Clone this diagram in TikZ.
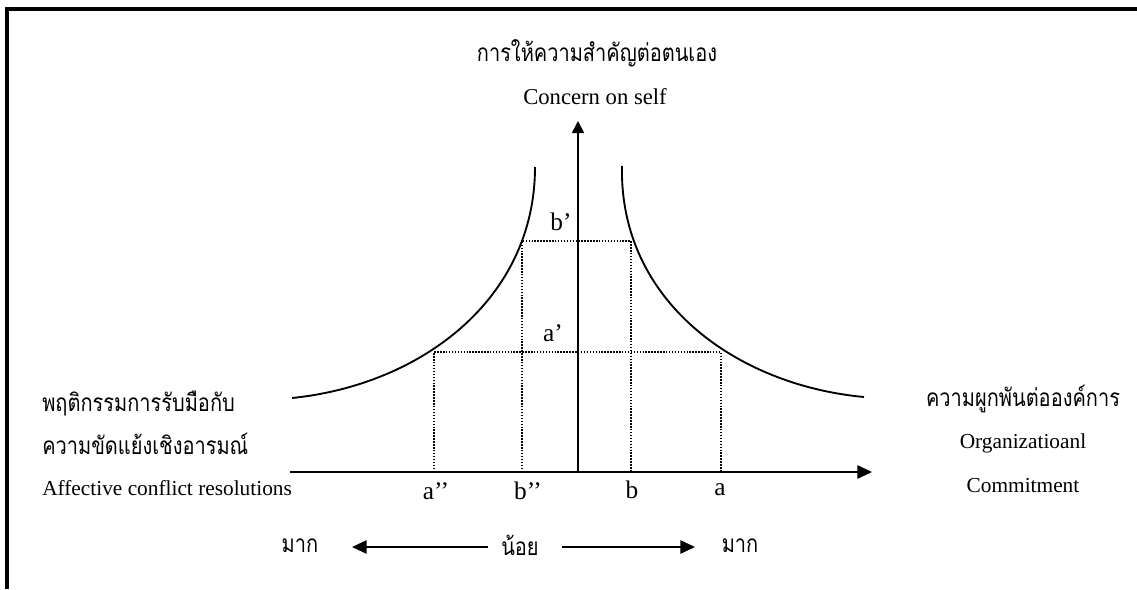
\documentclass[tikz,border=0pt]{standalone}
\usepackage{fontspec}
\setmainfont{Liberation Serif}
\newfontfamily\thaifont[Script=Thai]{Loma}
\usetikzlibrary{arrows.meta}
\newcommand{\thtall}[1]{\scalebox{1}[1.22]{#1}}
\tikzset{
  axisline/.style={line width=1.3pt},
  curveline/.style={line width=1.4pt},
  guide/.style={line width=1.1pt, dash pattern=on 1.1pt off 1.1pt},
  entext/.style={inner sep=0pt, font=\fontsize{16}{18}\selectfont},
  lbl/.style={inner sep=0pt, font=\fontsize{19}{21}\selectfont},
  thtext/.style={inner sep=0pt, font=\thaifont\fontsize{15}{17}\selectfont},
  bigtip/.style={-{Triangle[length=11pt,width=10pt]}},
  uptip/.style={-{Triangle[length=9pt,width=9pt]}}
}
\begin{document}
\begin{tikzpicture}[x=0.75pt,y=-0.75pt]
\useasboundingbox (0,0) rectangle (1137,589);
% frame
\coordinate (f1) at (7,589);
\coordinate (f2) at (7,9);
\coordinate (f3) at (1137,9);
\draw[line width=2.5pt] (f1) -- (f2) -- (f3);
% axes
\coordinate (O) at (578,472);
\coordinate (xs) at (290,472);
\coordinate (xe) at (872,472);
\coordinate (ye) at (578,121);
\draw[axisline, bigtip] (xs) -- (xe);
\draw[axisline, uptip] (O) -- (ye);
% guide points
\coordinate (A2) at (434,472);
\coordinate (B2) at (522,472);
\coordinate (B) at (631,472);
\coordinate (A) at (721,472);
\coordinate (Ap1) at (434,352);
\coordinate (Ap2) at (721,352);
\coordinate (Bp1) at (522,241);
\coordinate (Bp2) at (631,241);
\draw[guide] (A2) -- (Ap1) -- (Ap2) -- (A);
\draw[guide] (B2) -- (Bp1) -- (Bp2) -- (B);
% curves
\coordinate (L0) at (292,398);
\coordinate (L1) at (535,167);
\coordinate (R0) at (622,166);
\coordinate (R1) at (864,397);
\draw[curveline] (L0) .. controls (420,385) and (535,300) .. (L1);
\draw[curveline] (R0) .. controls (619,300) and (735,385) .. (R1);
% labels
\node[lbl] (la2) at (436,491) {a’’};
\node[lbl] (lb2) at (528,491) {b’’};
\node[lbl] (lb) at (632,490) {b};
\node[lbl] (la) at (720,490) {a};
\node[lbl] (lap) at (553,333) {a’};
\node[lbl] (lbp) at (561,222) {b’};
% top texts
\node[thtext] (t1) at (597,53) {\thtall{การให้ความสำคัญต่อตนเอง}};
\node[entext, font=\fontsize{17}{19}\selectfont] (t2) at (595,97) {Concern on self};
% left texts
\node[thtext, anchor=west] (l1) at (42,403) {\thtall{พฤติกรรมการรับมือกับ}};
\node[thtext, anchor=west] (l2) at (42,444) {\thtall{ความขัดแย้งเชิงอารมณ์}};
\node[entext, anchor=west] (l3) at (42,488) {Affective conflict resolutions};
% right texts
\node[thtext] (r1) at (1023,399) {\thtall{ความผูกพันต่อองค์การ}};
\node[entext] (r2) at (1023,443) {Organizatioanl};
\node[entext] (r3) at (1023,486) {Commitment};
% bottom scale
\node[thtext] (m1) at (300,546) {\thtall{มาก}};
\node[thtext] (n0) at (520,545) {\thtall{น้อย}};
\node[thtext] (m2) at (740,546) {\thtall{มาก}};
\coordinate (al) at (488,547);
\coordinate (alt) at (352,547);
\coordinate (ar) at (562,547);
\coordinate (art) at (695,547);
\draw[axisline, bigtip] (al) -- (alt);
\draw[axisline, bigtip] (ar) -- (art);
\end{tikzpicture}
\end{document}
